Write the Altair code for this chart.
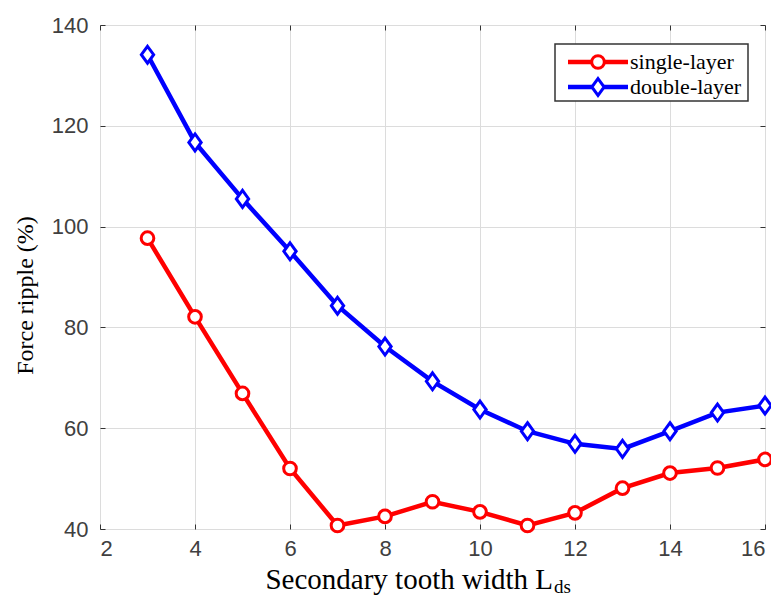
import altair as alt
import pandas as pd

# Data
widths = [3, 4, 5, 6, 7, 8, 9, 10, 11, 12, 13, 14, 15, 16]
single_layer = [97.7, 82.1, 66.9, 52.0, 40.7, 42.5, 45.4, 43.4, 40.7, 43.2, 48.1, 51.1, 52.1, 53.8]
double_layer = [134.1, 116.7, 105.5, 95.1, 84.3, 76.2, 69.3, 63.7, 59.4, 56.9, 55.9, 59.4, 63.1, 64.5]
series_names = ["single-layer", "double-layer"]
series_colors = ["#ff0000", "#0000ff"]
series_shapes = ["circle", "M0,-1.1L0.8,0L0,1.1L-0.8,0Z"]
series_sizes = [160, 237]
x_ticks = [2, 4, 6, 8, 10, 12, 14, 16]
y_ticks = [40, 60, 80, 100, 120, 140]
x_title_main = "Secondary tooth width L"
x_title_sub = "ds"
y_title = "Force ripple (%)"

rows = []
for i, w in enumerate(widths):
    rows.append({"w": w, "v": single_layer[i], "series": series_names[0]})
    rows.append({"w": w, "v": double_layer[i], "series": series_names[1]})
df = pd.DataFrame(rows)

W, H = 665, 504
x_scale = alt.Scale(domain=[2, 16], nice=False, zero=False)
y_scale = alt.Scale(domain=[40, 140], nice=False, zero=False)

main_x_axis = alt.Axis(values=x_ticks, title=None, grid=True, ticks=False, domain=False,
                       labelFont="Liberation Sans", labelFontSize=22, labelColor="#404040",
                       labelPadding=9, gridColor="#dcdcdc", gridWidth=1, orient="bottom")
main_y_axis = alt.Axis(values=y_ticks, title=y_title, grid=True, ticks=False, domain=False,
                       labelFont="Liberation Sans", labelFontSize=22, labelColor="#404040",
                       labelPadding=12, gridColor="#dcdcdc", gridWidth=1, orient="left",
                       titleFont="Liberation Serif", titleFontSize=24, titleFontWeight="normal",
                       titleColor="black", titleAngle=-90, titleX=-68, titleY=270,
                       titleAlign="center", titleBaseline="alphabetic")


def tick_axis(vals, orient):
    # inward ticks on the frame (MATLAB style)
    return alt.Axis(values=vals, title=None, grid=False, labels=False, domain=False,
                    ticks=True, tickSize=5, tickColor="#333333", tickWidth=1,
                    offset=-5, orient=orient)


color_scale = alt.Scale(domain=series_names, range=series_colors)
shape_scale = alt.Scale(domain=series_names, range=series_shapes)
size_scale = alt.Scale(domain=series_names, range=series_sizes)

lines = alt.Chart(df).mark_line(strokeWidth=4.5).encode(
    x=alt.X("w:Q", scale=x_scale, axis=main_x_axis),
    y=alt.Y("v:Q", scale=y_scale, axis=main_y_axis),
    color=alt.Color("series:N", scale=color_scale, legend=None),
)

points = alt.Chart(df).mark_point(filled=False, fill="white", fillOpacity=1, strokeWidth=3, opacity=1).encode(
    x=alt.X("w:Q", scale=x_scale, axis=tick_axis(x_ticks, "top")),
    y=alt.Y("v:Q", scale=y_scale, axis=tick_axis(y_ticks, "right")),
    color=alt.Color("series:N", scale=color_scale, legend=None),
    shape=alt.Shape("series:N", scale=shape_scale, legend=None),
    size=alt.Size("series:N", scale=size_scale, legend=None),
)

ghost = alt.Chart(df).mark_point(opacity=0).encode(
    x=alt.X("w:Q", scale=x_scale, axis=tick_axis(x_ticks, "bottom")),
    y=alt.Y("v:Q", scale=y_scale, axis=tick_axis(y_ticks, "left")),
)

# Legend box (MATLAB style: line + marker + label)
legend_layers = [
    alt.Chart(pd.DataFrame({"k": [0]})).mark_rect(
        fill="white", stroke="#333333", strokeWidth=1.5
    ).encode(x=alt.value(455), x2=alt.value(648), y=alt.value(19), y2=alt.value(76))
]
row_y = [37, 62]
for name, col, shp, sz, ry in zip(series_names, series_colors, series_shapes, series_sizes, row_y):
    d = pd.DataFrame({"series": [name]})
    legend_layers.append(
        alt.Chart(d).mark_rule(color=col, strokeWidth=4.5).encode(
            x=alt.value(468), x2=alt.value(528), y=alt.value(ry))
    )
    legend_layers.append(
        alt.Chart(d).mark_point(shape=shp, filled=False, fill="white", fillOpacity=1,
                                color=col, strokeWidth=3, size=sz, opacity=1).encode(
            x=alt.value(498), y=alt.value(ry))
    )
    legend_layers.append(
        alt.Chart(d).mark_text(font="Liberation Serif", fontSize=22, align="left",
                               baseline="middle", color="black").encode(
            text="series:N", x=alt.value(530), y=alt.value(ry))
    )

title_main = alt.Chart(pd.DataFrame({"t": [x_title_main]})).mark_text(
    font="Liberation Serif", fontSize=29, align="right", baseline="alphabetic", color="black"
).encode(text="t:N", x=alt.value(453), y=alt.value(564))

title_sub = alt.Chart(pd.DataFrame({"t": [x_title_sub]})).mark_text(
    font="Liberation Serif", fontSize=19, align="left", baseline="alphabetic", color="black"
).encode(text="t:N", x=alt.value(454), y=alt.value(568))

chart = alt.layer(lines, points, ghost, *legend_layers, title_main, title_sub).resolve_axis(
    x="independent", y="independent"
).properties(
    width=W, height=H,
    autosize=alt.AutoSizeParams(type="none"),
    padding={"left": 92, "top": 17, "right": 6, "bottom": 68},
).configure_view(
    stroke="#333333", strokeWidth=1.5
).configure(background="white")

chart.save("out.html", embed_options={"renderer": "svg", "actions": False})
